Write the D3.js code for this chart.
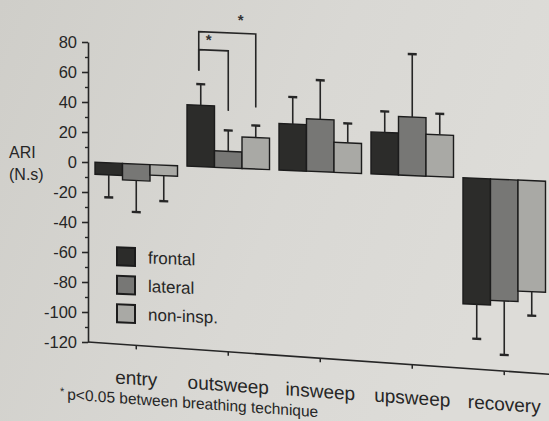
<!DOCTYPE html>
<html><head><meta charset="utf-8">
<script src="https://cdn.jsdelivr.net/npm/d3@7"></script>
<style>
html,body{margin:0;padding:0;background:#d5d4d0;}
svg{display:block;font-family:"Liberation Sans",Arial,sans-serif;}
</style></head>
<body>
<svg id="chart" width="549" height="421"></svg>
<script>
const categories = ["entry", "outsweep", "insweep", "upsweep", "recovery"];
const seriesNames = ["frontal", "lateral", "non-insp."];
const frontal   = [-8, 41, 31, 28, -84];
const lateral   = [-11, 11, 35, 39, -81];
const nonInsp   = [-7, 21, 20, 28, -74];
const frontalSD = [15, 14, 18, 14, 23];
const lateralSD = [21, 14, 26, 42, 36];
const nonInspSD = [17, 8, 13, 14, 16];
const yTickValues = [80, 60, 40, 20, 0, -20, -40, -60, -80, -100, -120];
const yMinorValues = [70, 50, 30, 10, -10, -30, -50, -70, -90, -110];
// significance brackets (outsweep): values in ARI units
const sigBrackets = [
  {cat: "outsweep", from: "frontal", to: "lateral",   top: 78, leftEnd: 64, rightEnd: 38},
  {cat: "outsweep", from: "frontal", to: "non-insp.", top: 90, leftEnd: 64, rightEnd: 41}
];
const footnote = "p<0.05 between breathing technique";

const means = [frontal, lateral, nonInsp];
const sds = [frontalSD, lateralSD, nonInspSD];
const colors = {"frontal": "#2c2c2a", "lateral": "#777775", "non-insp.": "#a9a9a5"};

const svg = d3.select("#chart");
const W = 549, H = 421;

const defs = svg.append("defs");
const grad = defs.append("linearGradient").attr("id", "bg").attr("x1", "0").attr("y1", "0").attr("x2", "1").attr("y2", "0.3");
grad.append("stop").attr("offset", "0").attr("stop-color", "#cfcec9");
grad.append("stop").attr("offset", "0.6").attr("stop-color", "#d9d8d4");
grad.append("stop").attr("offset", "1").attr("stop-color", "#dddcd8");
svg.append("rect").attr("width", W).attr("height", H).attr("fill", "url(#bg)");

const ink = "#262626";
const axisX0 = 88;
const y = d3.scaleLinear().domain([-120, 80]).range([342, 42]);
const x = d3.scaleBand().domain(categories).range([95, 545.5]).paddingInner(0.103);
const xs = d3.scaleBand().domain(seriesNames).range([0, x.bandwidth()]);

const k1 = 0.042, k2 = 0.07;
const plot = svg.append("g").attr("transform", `matrix(1,${k1},0,1,0,${-k1 * axisX0})`);
const xg = svg.append("g").attr("transform", `matrix(1,${k2},0,1,0,${-k2 * axisX0})`);

const rows = [];
categories.forEach((c, i) => {
  seriesNames.forEach((s, j) => rows.push({cat: c, ser: s, v: means[j][i], sd: sds[j][i]}));
});

// bars
plot.append("g").selectAll("rect").data(rows).join("rect")
  .attr("x", d => x(d.cat) + xs(d.ser))
  .attr("width", xs.bandwidth())
  .attr("y", d => y(Math.max(0, d.v)))
  .attr("height", d => Math.abs(y(d.v) - y(0)))
  .attr("fill", d => colors[d.ser])
  .attr("stroke", "#1c1c1c").attr("stroke-width", 1.4);

// error bars
const eb = plot.append("g").attr("stroke", ink);
rows.forEach(d => {
  const cx = x(d.cat) + xs(d.ser) + xs.bandwidth() / 2;
  const end = d.v >= 0 ? d.v + d.sd : d.v - d.sd;
  eb.append("line").attr("x1", cx).attr("x2", cx).attr("y1", y(d.v)).attr("y2", y(end)).attr("stroke-width", 1.6);
  eb.append("line").attr("x1", cx - 4.5).attr("x2", cx + 4.5).attr("y1", y(end)).attr("y2", y(end)).attr("stroke-width", 2.4);
});

// significance brackets
const sg = plot.append("g");
sigBrackets.forEach((b, i) => {
  const xl = x(b.cat) + xs(b.from) + xs.bandwidth() / 2 - 2;
  const xr = x(b.cat) + xs(b.to) + xs.bandwidth() / 2;
  sg.append("path")
    .attr("d", `M${xl},${y(b.leftEnd)}V${y(b.top)}H${xr}V${y(b.rightEnd)}`)
    .attr("fill", "none").attr("stroke", ink).attr("stroke-width", 1.6);
  sg.append("text")
    .attr("x", xl + (i === 0 ? 10 : 42)).attr("y", y(b.top) + (i === 0 ? -5 : -8))
    .attr("text-anchor", "middle").attr("font-size", 15).attr("font-weight", "bold")
    .attr("fill", "#333").text("*");
});

// legend
const lg = plot.append("g").attr("transform", "translate(117,246)");
seriesNames.forEach((s, i) => {
  const g = lg.append("g").attr("transform", `translate(0,${i * 28.5})`);
  g.append("rect").attr("width", 18).attr("height", 18)
    .attr("fill", colors[s]).attr("stroke", "#1c1c1c").attr("stroke-width", 2);
  g.append("text").attr("x", 31).attr("y", 15).attr("font-size", 17).attr("fill", ink).text(s);
});

// y axis (vertical)
const ya = svg.append("g").attr("transform", `translate(${axisX0},0)`);
ya.call(d3.axisLeft(y).tickValues(yTickValues).tickFormat(d => String(d)).tickSize(6).tickPadding(5).tickSizeOuter(0))
  .call(g => g.select(".domain").attr("stroke", ink).attr("stroke-width", 1.6))
  .call(g => g.selectAll(".tick line").attr("stroke", ink).attr("stroke-width", 1.6))
  .call(g => g.selectAll(".tick text").attr("font-size", 16.5).attr("fill", ink)
    .attr("font-family", "Liberation Sans, Arial, sans-serif"));
const ym = svg.append("g").attr("transform", `translate(${axisX0},0)`);
ym.call(d3.axisLeft(y).tickValues(yMinorValues).tickSize(3).tickFormat(""))
  .call(g => g.select(".domain").remove())
  .call(g => g.selectAll(".tick line").attr("stroke", ink).attr("stroke-width", 1.4));

// y axis title
const yt = svg.append("text").attr("font-size", 16).attr("fill", ink);
yt.append("tspan").attr("x", 9).attr("y", 158).text("ARI");
yt.append("tspan").attr("x", 9).attr("y", 180).text("(N.s)");

// x axis (skewed like the photo)
xg.append("line").attr("x1", axisX0).attr("x2", 560).attr("y1", y(-120)).attr("y2", y(-120))
  .attr("stroke", ink).attr("stroke-width", 1.6);
const xa = xg.append("g").attr("transform", `translate(0,${y(-120)})`);
xa.call(d3.axisBottom(x).tickSize(4).tickSizeOuter(0).tickPadding(22))
  .call(g => g.select(".domain").remove())
  .call(g => g.selectAll(".tick line").attr("stroke", ink).attr("stroke-width", 1.5))
  .call(g => g.selectAll(".tick text").attr("font-size", 19).attr("fill", ink)
    .attr("font-family", "Liberation Sans, Arial, sans-serif"));

// footnote
const fn = xg.append("text").attr("x", 60).attr("y", 401).attr("fill", ink);
fn.append("tspan").attr("font-size", 11).attr("dy", -4).text("*");
fn.append("tspan").attr("font-size", 15.5).attr("dx", 3).attr("dy", 4).text(footnote);
</script>
</body></html>
